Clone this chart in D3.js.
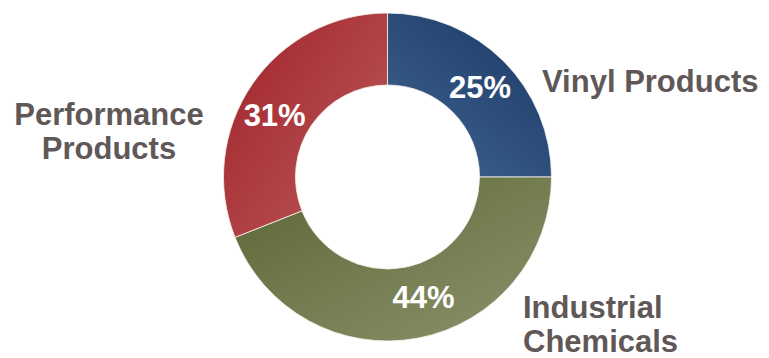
<!DOCTYPE html>
<html>
<head>
<meta charset="utf-8">
<script src="https://cdn.jsdelivr.net/npm/d3@7"></script>
<style>
  html, body { margin: 0; padding: 0; background: #fff; }
  svg { display: block; }
</style>
</head>
<body>
<svg id="chart" width="769" height="358"></svg>
<script>
// Segment revenue share
const segments = ["Vinyl Products", "Industrial Chemicals", "Performance Products"];
const shares = [25, 44, 31];
const nameLines = [["Vinyl Products"], ["Industrial", "Chemicals"], ["Performance", "Products"]];
// gradient stops per segment: [dark, light]
const segmentColors = [["#1d3c6b", "#41648e"], ["#5c6636", "#8c926b"], ["#a2252b", "#bc5b5d"]];

const cx = 387.5, cy = 177, rOuter = 164, rInner = 92;

const svg = d3.select("#chart");
const defs = svg.append("defs");

const pie = d3.pie().sort(null).value(d => d.value);
const arcs = pie(segments.map((name, i) => ({ name, value: shares[i], i })));
const arc = d3.arc().innerRadius(rInner).outerRadius(rOuter);

// gradient direction per segment, relative to each slice's own bounding box
const gradDir = [
  { x1: 0.85, y1: 0.1, x2: 0.1, y2: 1 },
  { x1: 0, y1: 0, x2: 1, y2: 1 },
  { x1: 0, y1: 0.1, x2: 1, y2: 1 }
];

arcs.forEach((a, i) => {
  const g = gradDir[i];
  const lg = defs.append("linearGradient")
    .attr("id", "seg" + i)
    .attr("x1", g.x1).attr("y1", g.y1)
    .attr("x2", g.x2).attr("y2", g.y2);
  lg.append("stop").attr("offset", "0%").attr("stop-color", segmentColors[i][0]);
  lg.append("stop").attr("offset", "100%").attr("stop-color", segmentColors[i][1]);
});

const ring = svg.append("g").attr("transform", `translate(${cx},${cy})`);

ring.selectAll("path.slice")
  .data(arcs)
  .join("path")
  .attr("class", "slice")
  .attr("d", arc)
  .attr("fill", (d, i) => `url(#seg${i})`)
  .attr("stroke", "#f4f4ee")
  .attr("stroke-width", 0.8);

// percentage labels inside the ring, nudged from each slice centroid
const pctNudge = [[2, 0], [12, -6], [-7, 10]];
ring.selectAll("text.pct")
  .data(arcs)
  .join("text")
  .attr("class", "pct")
  .attr("x", (d, i) => arc.centroid(d)[0] + pctNudge[i][0])
  .attr("y", (d, i) => arc.centroid(d)[1] + pctNudge[i][1])
  .attr("text-anchor", "middle")
  .attr("dy", "0.36em")
  .attr("fill", "#ffffff")
  .attr("font-family", "'Liberation Sans', Arial, sans-serif")
  .attr("font-weight", "bold")
  .attr("font-size", 31)
  .text(d => d.data.value + "%");

// segment names outside the ring
const namePos = [
  { x: 542, y: 92, anchor: "start" },
  { x: 523, y: 318, anchor: "start" },
  { x: 109, y: 125, anchor: "middle" }
];
const lineH = 34;
segments.forEach((s, i) => {
  const p = namePos[i];
  const t = svg.append("text")
    .attr("x", p.x).attr("y", p.y)
    .attr("text-anchor", p.anchor)
    .attr("fill", "#605857")
    .attr("font-family", "'Liberation Sans', Arial, sans-serif")
    .attr("font-weight", "bold")
    .attr("font-size", 31);
  nameLines[i].forEach((ln, k) => {
    t.append("tspan").attr("x", p.x).attr("y", p.y + k * lineH).text(ln);
  });
});
</script>
</body>
</html>
